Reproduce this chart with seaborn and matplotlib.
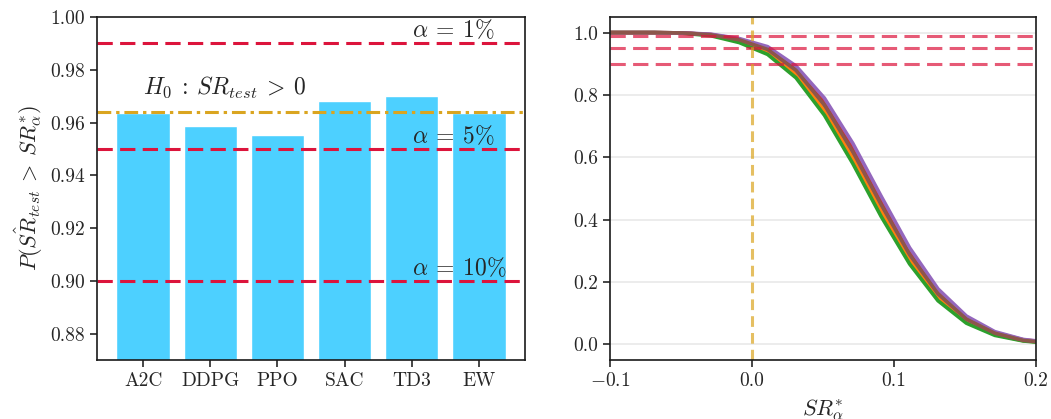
import numpy as np
import pandas as pd
import matplotlib
matplotlib.use("Agg")
import matplotlib.pyplot as plt
import seaborn as sns

# ----------------------------------------------------------
# DATOS
# ----------------------------------------------------------

agentes = ["A2C", "DDPG", "PPO", "SAC", "TD3", "EW"]
prob_sr0 = [0.9638, 0.9586, 0.9552, 0.9680, 0.9700, 0.9638]

niveles_alpha = [0.99, 0.95, 0.90]
etiquetas_alpha = [r"$\alpha\:=\:1\%$", r"$\alpha\:=\:5\%$", r"$\alpha\:=\:10\%$"]
h0_valor = 0.964

sr_star = [-0.109, -0.089, -0.069, -0.049, -0.029, -0.009, 0.011, 0.031,
           0.051, 0.071, 0.091, 0.111, 0.131, 0.151, 0.171, 0.191, 0.211]

curva_a2c = [1.0, 1.0, 1.0, 0.999, 0.993, 0.976, 0.945, 0.878, 0.765,
             0.615, 0.445, 0.285, 0.160, 0.080, 0.035, 0.013, 0.004]
curva_ddpg = [1.0, 1.0, 1.0, 0.999, 0.992, 0.972, 0.938, 0.867, 0.750,
              0.598, 0.428, 0.272, 0.150, 0.074, 0.032, 0.012, 0.004]
curva_ppo = [1.0, 1.0, 1.0, 0.998, 0.990, 0.968, 0.930, 0.855, 0.735,
             0.580, 0.410, 0.258, 0.140, 0.068, 0.029, 0.011, 0.003]
curva_sac = [1.0, 1.0, 1.0, 0.999, 0.994, 0.979, 0.950, 0.886, 0.778,
             0.630, 0.460, 0.298, 0.170, 0.086, 0.038, 0.015, 0.005]
curva_td3 = [1.0, 1.0, 1.0, 0.999, 0.995, 0.981, 0.955, 0.893, 0.790,
             0.645, 0.475, 0.310, 0.178, 0.091, 0.041, 0.016, 0.006]
curva_ew = [1.0, 1.0, 1.0, 0.999, 0.993, 0.977, 0.946, 0.879, 0.768,
            0.618, 0.448, 0.288, 0.162, 0.081, 0.036, 0.013, 0.004]

curvas = {
    "A2C": curva_a2c,
    "DDPG": curva_ddpg,
    "PPO": curva_ppo,
    "SAC": curva_sac,
    "TD3": curva_td3,
    "EW": curva_ew,
}

# ----------------------------------------------------------
# ESTILO
# ----------------------------------------------------------

sns.set_theme(style="ticks")
plt.rcParams["font.family"] = ["cmr10", "DejaVu Serif"]
plt.rcParams["mathtext.fontset"] = "cm"
plt.rcParams["axes.formatter.use_mathtext"] = True
plt.rcParams["axes.edgecolor"] = "#1a1a1a"
plt.rcParams["axes.linewidth"] = 1.2

ROJO = "#dc143c"
DORADO = "#daa520"
CELESTE = "#4dd0ff"

fig = plt.figure(figsize=(10.51, 4.19), dpi=100)
ax1 = fig.add_axes([0.0923, 0.1408, 0.4072, 0.8186])
ax2 = fig.add_axes([0.5804, 0.1408, 0.4053, 0.8186])

# ----------------------------------------------------------
# PANEL IZQUIERDO: BARRAS
# ----------------------------------------------------------

df_barras = pd.DataFrame({"agente": agentes, "prob": prob_sr0})

sns.barplot(data=df_barras, x="agente", y="prob", color=CELESTE,
            saturation=1, width=0.8, ax=ax1)

for nivel, txt in zip(niveles_alpha, etiquetas_alpha):
    ax1.axhline(nivel, color=ROJO, lw=2.2, ls=(0, (5, 2.4)))
    ax1.text(4.0, nivel + 0.0003, txt, fontsize=17, va="bottom", ha="left")

ax1.axhline(h0_valor, color=DORADO, lw=2.2, ls=(0, (4.5, 1.6, 1.1, 1.6)))
ax1.text(0.0, 0.9685, r"$H_0\::\:SR_{test}\:>\:0$", fontsize=17,
         va="bottom", ha="left")

ax1.set_ylim(0.87, 1.0)
ax1.set_xlim(-0.69, 5.69)
ax1.set_yticks([0.88, 0.90, 0.92, 0.94, 0.96, 0.98, 1.00])
ax1.set_yticklabels(["0.88", "0.90", "0.92", "0.94", "0.96", "0.98", "1.00"])
ax1.set_xlabel("")
ax1.set_ylabel(r"$P(\hat{SR}_{test}\:>\:SR^{*}_{\alpha})$", fontsize=16)
ax1.tick_params(labelsize=14, length=5, width=1.2)

# ----------------------------------------------------------
# PANEL DERECHO: CURVAS
# ----------------------------------------------------------

filas = []
for nombre, valores in curvas.items():
    for x, y in zip(sr_star, valores):
        filas.append({"sr": x, "p": y, "agente": nombre})
df_curvas = pd.DataFrame(filas)

ax2.grid(axis="y", color="#ebebeb", lw=1.3)
ax2.set_axisbelow(True)

sns.lineplot(data=df_curvas, x="sr", y="p", hue="agente",
             hue_order=agentes, palette="tab10", lw=2.6,
             legend=False, ax=ax2)

for nivel in niveles_alpha:
    ax2.axhline(nivel, color=ROJO, lw=2.2, ls=(0, (5, 2.4)), alpha=0.7)
ax2.axvline(0.0, color=DORADO, lw=2.2, ls=(0, (3.5, 2)), alpha=0.7)

ax2.set_xlim(-0.1, 0.2)
ax2.set_ylim(-0.05, 1.05)
ax2.set_xticks([-0.1, 0.0, 0.1, 0.2])
ax2.set_xticklabels(["$-0.1$", "0.0", "0.1", "0.2"])
ax2.set_yticks([0.0, 0.2, 0.4, 0.6, 0.8, 1.0])
ax2.set_yticklabels(["0.0", "0.2", "0.4", "0.6", "0.8", "1.0"])
ax2.set_xlabel(r"$SR^{*}_{\alpha}$", fontsize=16, labelpad=6)
ax2.set_ylabel("")
ax2.tick_params(labelsize=14, length=5, width=1.2)

fig.savefig("out.png", dpi=100)
plt.close(fig)
